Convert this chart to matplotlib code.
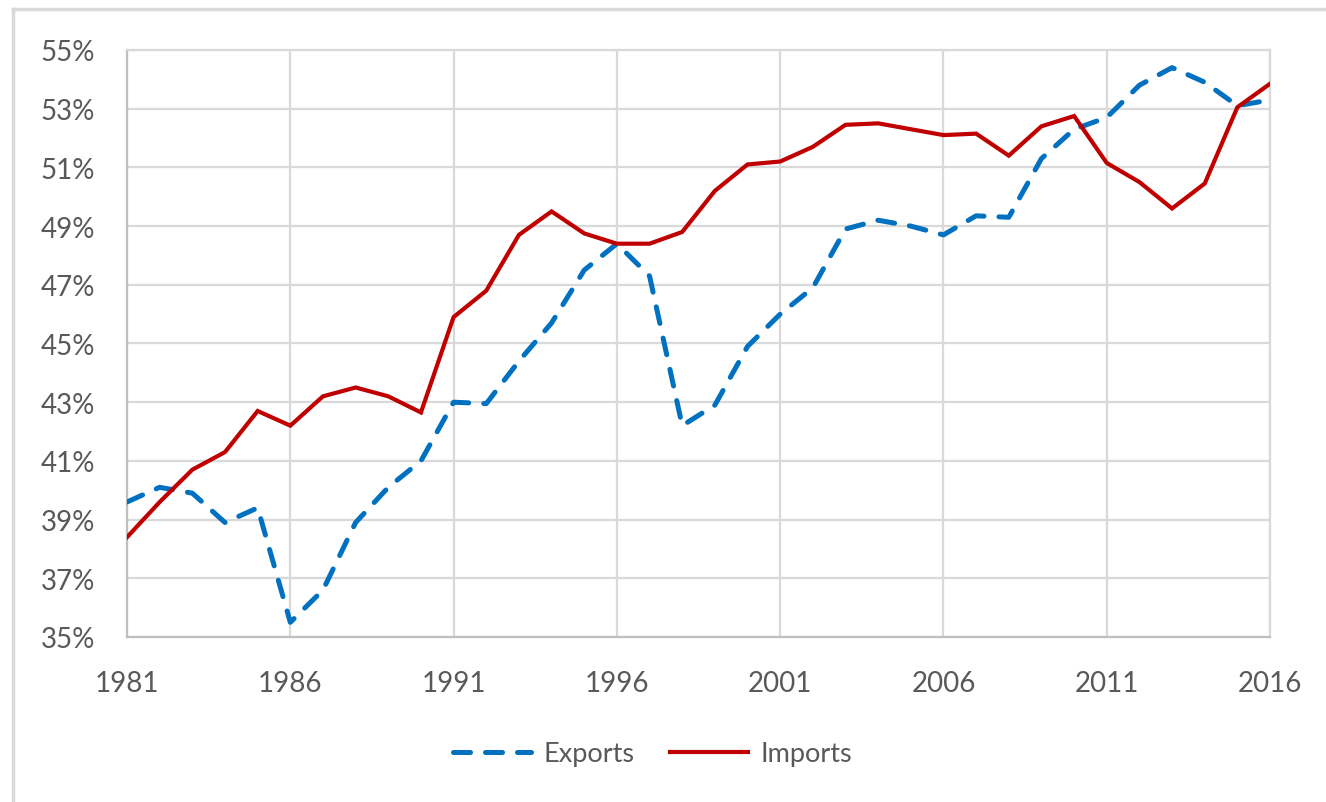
import numpy as np
import matplotlib.pyplot as plt
from matplotlib.lines import Line2D

# years and shares (%)
years = np.arange(1981, 2017)
exports = [39.6, 40.1, 39.9, 38.9, 39.4, 35.5, 36.6, 38.9, 40.1, 41.0,
           43.0, 42.95, 44.4, 45.7, 47.5, 48.4, 47.3, 42.2, 42.9, 44.9,
           46.0, 46.9, 48.9, 49.2, 49.0, 48.7, 49.35, 49.3, 51.3, 52.3,
           52.7, 53.8, 54.4, 53.9, 53.1, 53.3]
imports = [38.4, 39.6, 40.7, 41.3, 42.7, 42.2, 43.2, 43.5, 43.2, 42.65,
           45.9, 46.8, 48.7, 49.5, 48.75, 48.4, 48.4, 48.8, 50.2, 51.1,
           51.2, 51.7, 52.45, 52.5, 52.3, 52.1, 52.15, 51.4, 52.4, 52.75,
           51.15, 50.5, 49.6, 50.45, 53.05, 53.85]
xtick_years = [1981, 1986, 1991, 1996, 2001, 2006, 2011, 2016]
ytick_vals = list(range(35, 56, 2))

plt.rcParams['font.family'] = ['Lato', 'DejaVu Sans']
grey = '#595959'
gridc = '#D9D9D9'

fig = plt.figure(figsize=(13.26, 8.03), dpi=100)
ax = fig.add_axes([0.0958, 0.2055, 0.862, 0.731])

ax.plot(years, exports, color='#0070C0', lw=3.6, dashes=(3.4, 3.0),
        dash_capstyle='round', label='Exports', zorder=3)
ax.plot(years, imports, color='#C00000', lw=3.0, label='Imports', zorder=4,
        solid_joinstyle='miter')

ax.set_xlim(1981, 2016)
ax.set_ylim(35, 55)
ax.set_xticks(xtick_years)
ax.set_yticks(ytick_vals)
ax.set_yticklabels(['%d%%' % v for v in ytick_vals])
ax.tick_params(length=0, labelsize=20, colors=grey)
ax.tick_params(axis='y', pad=23)
ax.tick_params(axis='x', pad=24)
ax.grid(True, color=gridc, lw=1.6)
ax.set_axisbelow(True)
for s in ax.spines.values():
    s.set_color(gridc)
    s.set_linewidth(1.6)
ax.spines['left'].set_color('#BFBFBF')
ax.spines['bottom'].set_color('#BFBFBF')

leg = fig.legend(loc='center', bbox_to_anchor=(0.492, 0.06), ncol=2,
                 frameon=False, fontsize=19.5, handlelength=2.9,
                 handletextpad=0.45, columnspacing=1.3)
for t in leg.get_texts():
    t.set_color(grey)

# outer chart border (left and top only visible)
fig.add_artist(Line2D([0.0095, 0.0095], [0.0, 0.9875], color=gridc, lw=2.5))
fig.add_artist(Line2D([0.0095, 1.0], [0.9875, 0.9875], color=gridc, lw=2.5))

plt.savefig('out.png', dpi=100)
